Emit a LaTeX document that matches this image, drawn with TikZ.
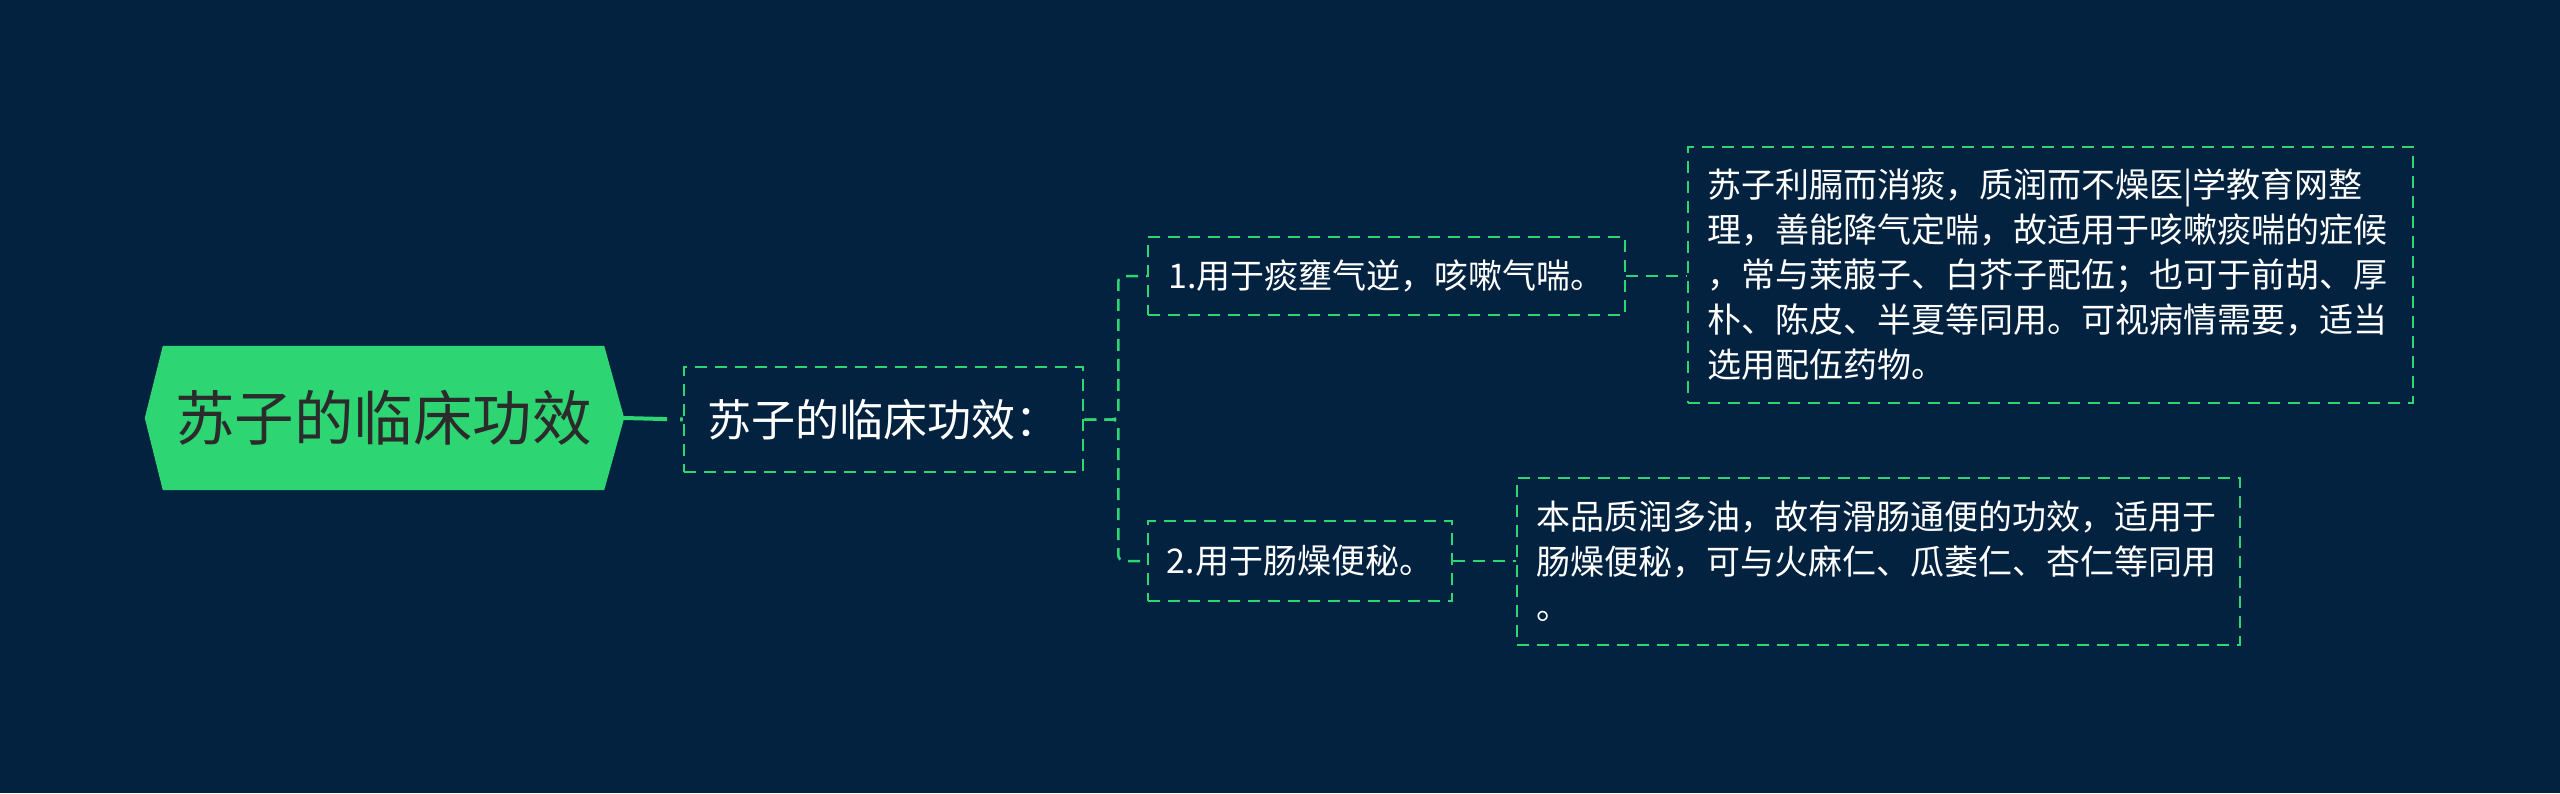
\documentclass[tikz,border=0pt]{standalone}
\usepackage{fontspec}
\newfontfamily\cjk{Noto Sans CJK SC}
\usetikzlibrary{backgrounds}
\definecolor{bg}{HTML}{022240}
\definecolor{grn}{HTML}{2ED573}
\definecolor{roottxt}{HTML}{2B2B2B}
\begin{document}
\begin{tikzpicture}[x=1pt,y=-1pt,
  box/.style={draw=grn, line width=2.5pt, dash pattern=on 12pt off 8pt, text=white, inner xsep=0pt, inner ysep=0pt, align=center},
  leafbox/.style={box, inner xsep=19pt, align=left, font=\cjk\fontsize{34}{45}\selectfont},
  subfont/.style={font=\cjk\fontsize{34}{45}\selectfont},
  conn/.style={draw=grn, line width=2.5pt, dash pattern=on 12pt off 8pt, rounded corners=6pt},
]
\useasboundingbox (0,0) rectangle (2560,793);

\node[font=\cjk\fontsize{59.5}{64}\selectfont, text=roottxt, minimum width=441pt, minimum height=144pt, inner sep=0pt] (root) at (383.5,418) {苏子的临床功效};
\coordinate (roottip) at ([xshift=20pt]root.east);
\coordinate (rootltip) at ([xshift=-18pt]root.west);

\node[box, font=\cjk\fontsize{44}{50}\selectfont, minimum width=399pt, minimum height=105pt] (n2) at (883.5,419.5) {苏子的临床功效：};

\node[box, subfont, minimum width=477pt, minimum height=78pt] (c1) at (1386.5,276) {1.用于痰壅气逆，咳嗽气喘。};
\node[box, subfont, minimum width=304pt, minimum height=80pt] (c2) at (1300,561) {2.用于肠燥便秘。};

\node[leafbox, text width=687pt, minimum height=256pt] (l1) at (2050.5,275) {苏子利膈而消痰，质润而不燥医|学教育网整\\理，善能降气定喘，故适用于咳嗽痰喘的症候\\，常与莱菔子、白芥子配伍；也可于前胡、厚\\朴、陈皮、半夏等同用。可视病情需要，适当\\选用配伍药物。};
\node[leafbox, text width=685pt, minimum height=167pt] (l2) at (1878.5,561.5) {本品质润多油，故有滑肠通便的功效，适用于\\肠燥便秘，可与火麻仁、瓜萎仁、杏仁等同用\\。};

\begin{pgfonlayer}{background}
\fill[bg] (0,0) rectangle (2560,793);
\fill[grn] (root.north west) -- (root.north east) -- (roottip) -- (root.south east) -- (root.south west) -- (rootltip) -- cycle;
\end{pgfonlayer}

\draw[grn, line width=4pt, dash pattern=on 43pt off 13pt] (roottip) -- (n2.west);
\draw[conn] (n2.east) -- ++(34,0) |- (c1.west);
\draw[conn] (n2.east) -- ++(34,0) |- (c2.west);
\draw[conn] (c1.east) -- (l1.west |- c1.east);
\draw[conn] (c2.east) -- (l2.west |- c2.east);
\end{tikzpicture}
\end{document}
